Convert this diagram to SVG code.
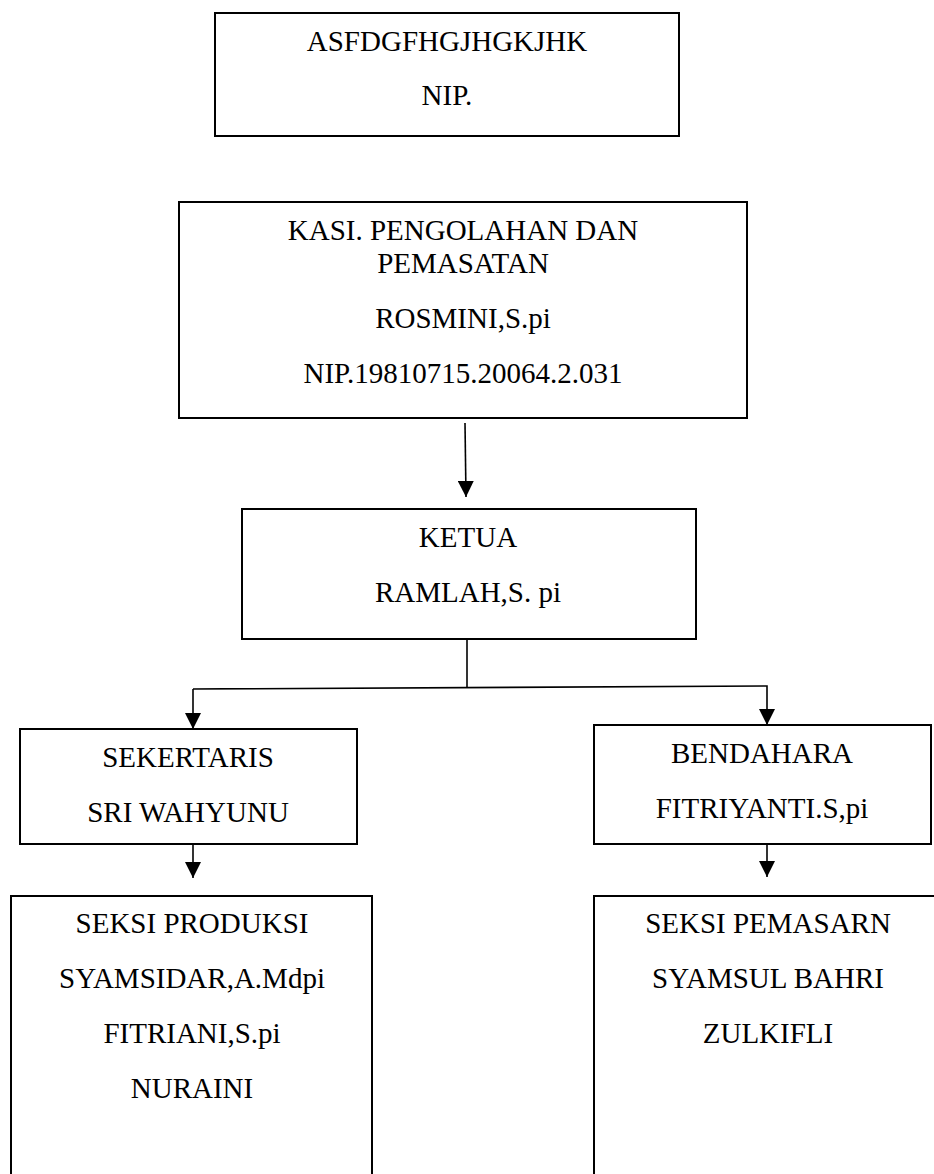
<svg xmlns="http://www.w3.org/2000/svg" width="934" height="1174" viewBox="0 0 934 1174">
<style>
.box{fill:#fff;stroke:#000;stroke-width:2}
text{font-family:'Liberation Serif','Times New Roman',Times,Tinos,'DejaVu Serif',serif;font-size:29px;fill:#000;text-anchor:middle}
.c{fill:none;stroke:#000;stroke-width:1.6}
</style>
<defs>
<marker id="ah" markerUnits="userSpaceOnUse" markerWidth="16" markerHeight="16" viewBox="0 0 16 16" refX="16" refY="8" orient="auto">
<path d="M0,0 L16,8 L0,16 z" fill="#000"/>
</marker>
</defs>
<rect width="934" height="1174" fill="#fff"/>
<g id="top">
<rect class="box" x="215" y="13" width="464" height="123"/>
<text x="447" y="51">ASFDGFHGJHGKJHK</text>
<text x="447" y="105">NIP.</text>
</g>
<g id="kasi">
<rect class="box" x="179" y="202" width="568" height="216"/>
<text x="463" y="240">KASI. PENGOLAHAN DAN</text>
<text x="463" y="273">PEMASATAN</text>
<text x="463" y="328">ROSMINI,S.pi</text>
<text x="463" y="383">NIP.19810715.20064.2.031</text>
</g>
<g id="ketua">
<rect class="box" x="242" y="509" width="454" height="130"/>
<text x="468" y="547">KETUA</text>
<text x="468" y="602">RAMLAH,S. pi</text>
</g>
<g id="sekertaris">
<rect class="box" x="20" y="729" width="337" height="115"/>
<text x="188" y="767">SEKERTARIS</text>
<text x="188" y="822">SRI WAHYUNU</text>
</g>
<g id="bendahara">
<rect class="box" x="594" y="725" width="337" height="119"/>
<text x="762" y="763">BENDAHARA</text>
<text x="762" y="818">FITRIYANTI.S,pi</text>
</g>
<g id="produksi">
<path class="box" d="M11,1176 V896 H372 V1176"/>
<text x="192" y="933">SEKSI PRODUKSI</text>
<text x="192" y="988">SYAMSIDAR,A.Mdpi</text>
<text x="192" y="1043">FITRIANI,S.pi</text>
<text x="192" y="1098">NURAINI</text>
</g>
<g id="pemasaran">
<path class="box" d="M594,1176 V896 H935"/>
<text x="768" y="933">SEKSI PEMASARN</text>
<text x="768" y="988">SYAMSUL BAHRI</text>
<text x="768" y="1043">ZULKIFLI</text>
</g>
<g id="connectors">
<line class="c" x1="465" y1="423" x2="466" y2="497" marker-end="url(#ah)"/>
<line class="c" x1="467" y1="639" x2="467" y2="687"/>
<polyline class="c" points="193,689 767,686 767,725" marker-end="url(#ah)"/>
<line class="c" x1="193" y1="689" x2="193" y2="729" marker-end="url(#ah)"/>
<line class="c" x1="193" y1="844" x2="193" y2="878" marker-end="url(#ah)"/>
<line class="c" x1="767" y1="844" x2="767" y2="877" marker-end="url(#ah)"/>
</g>
</svg>
